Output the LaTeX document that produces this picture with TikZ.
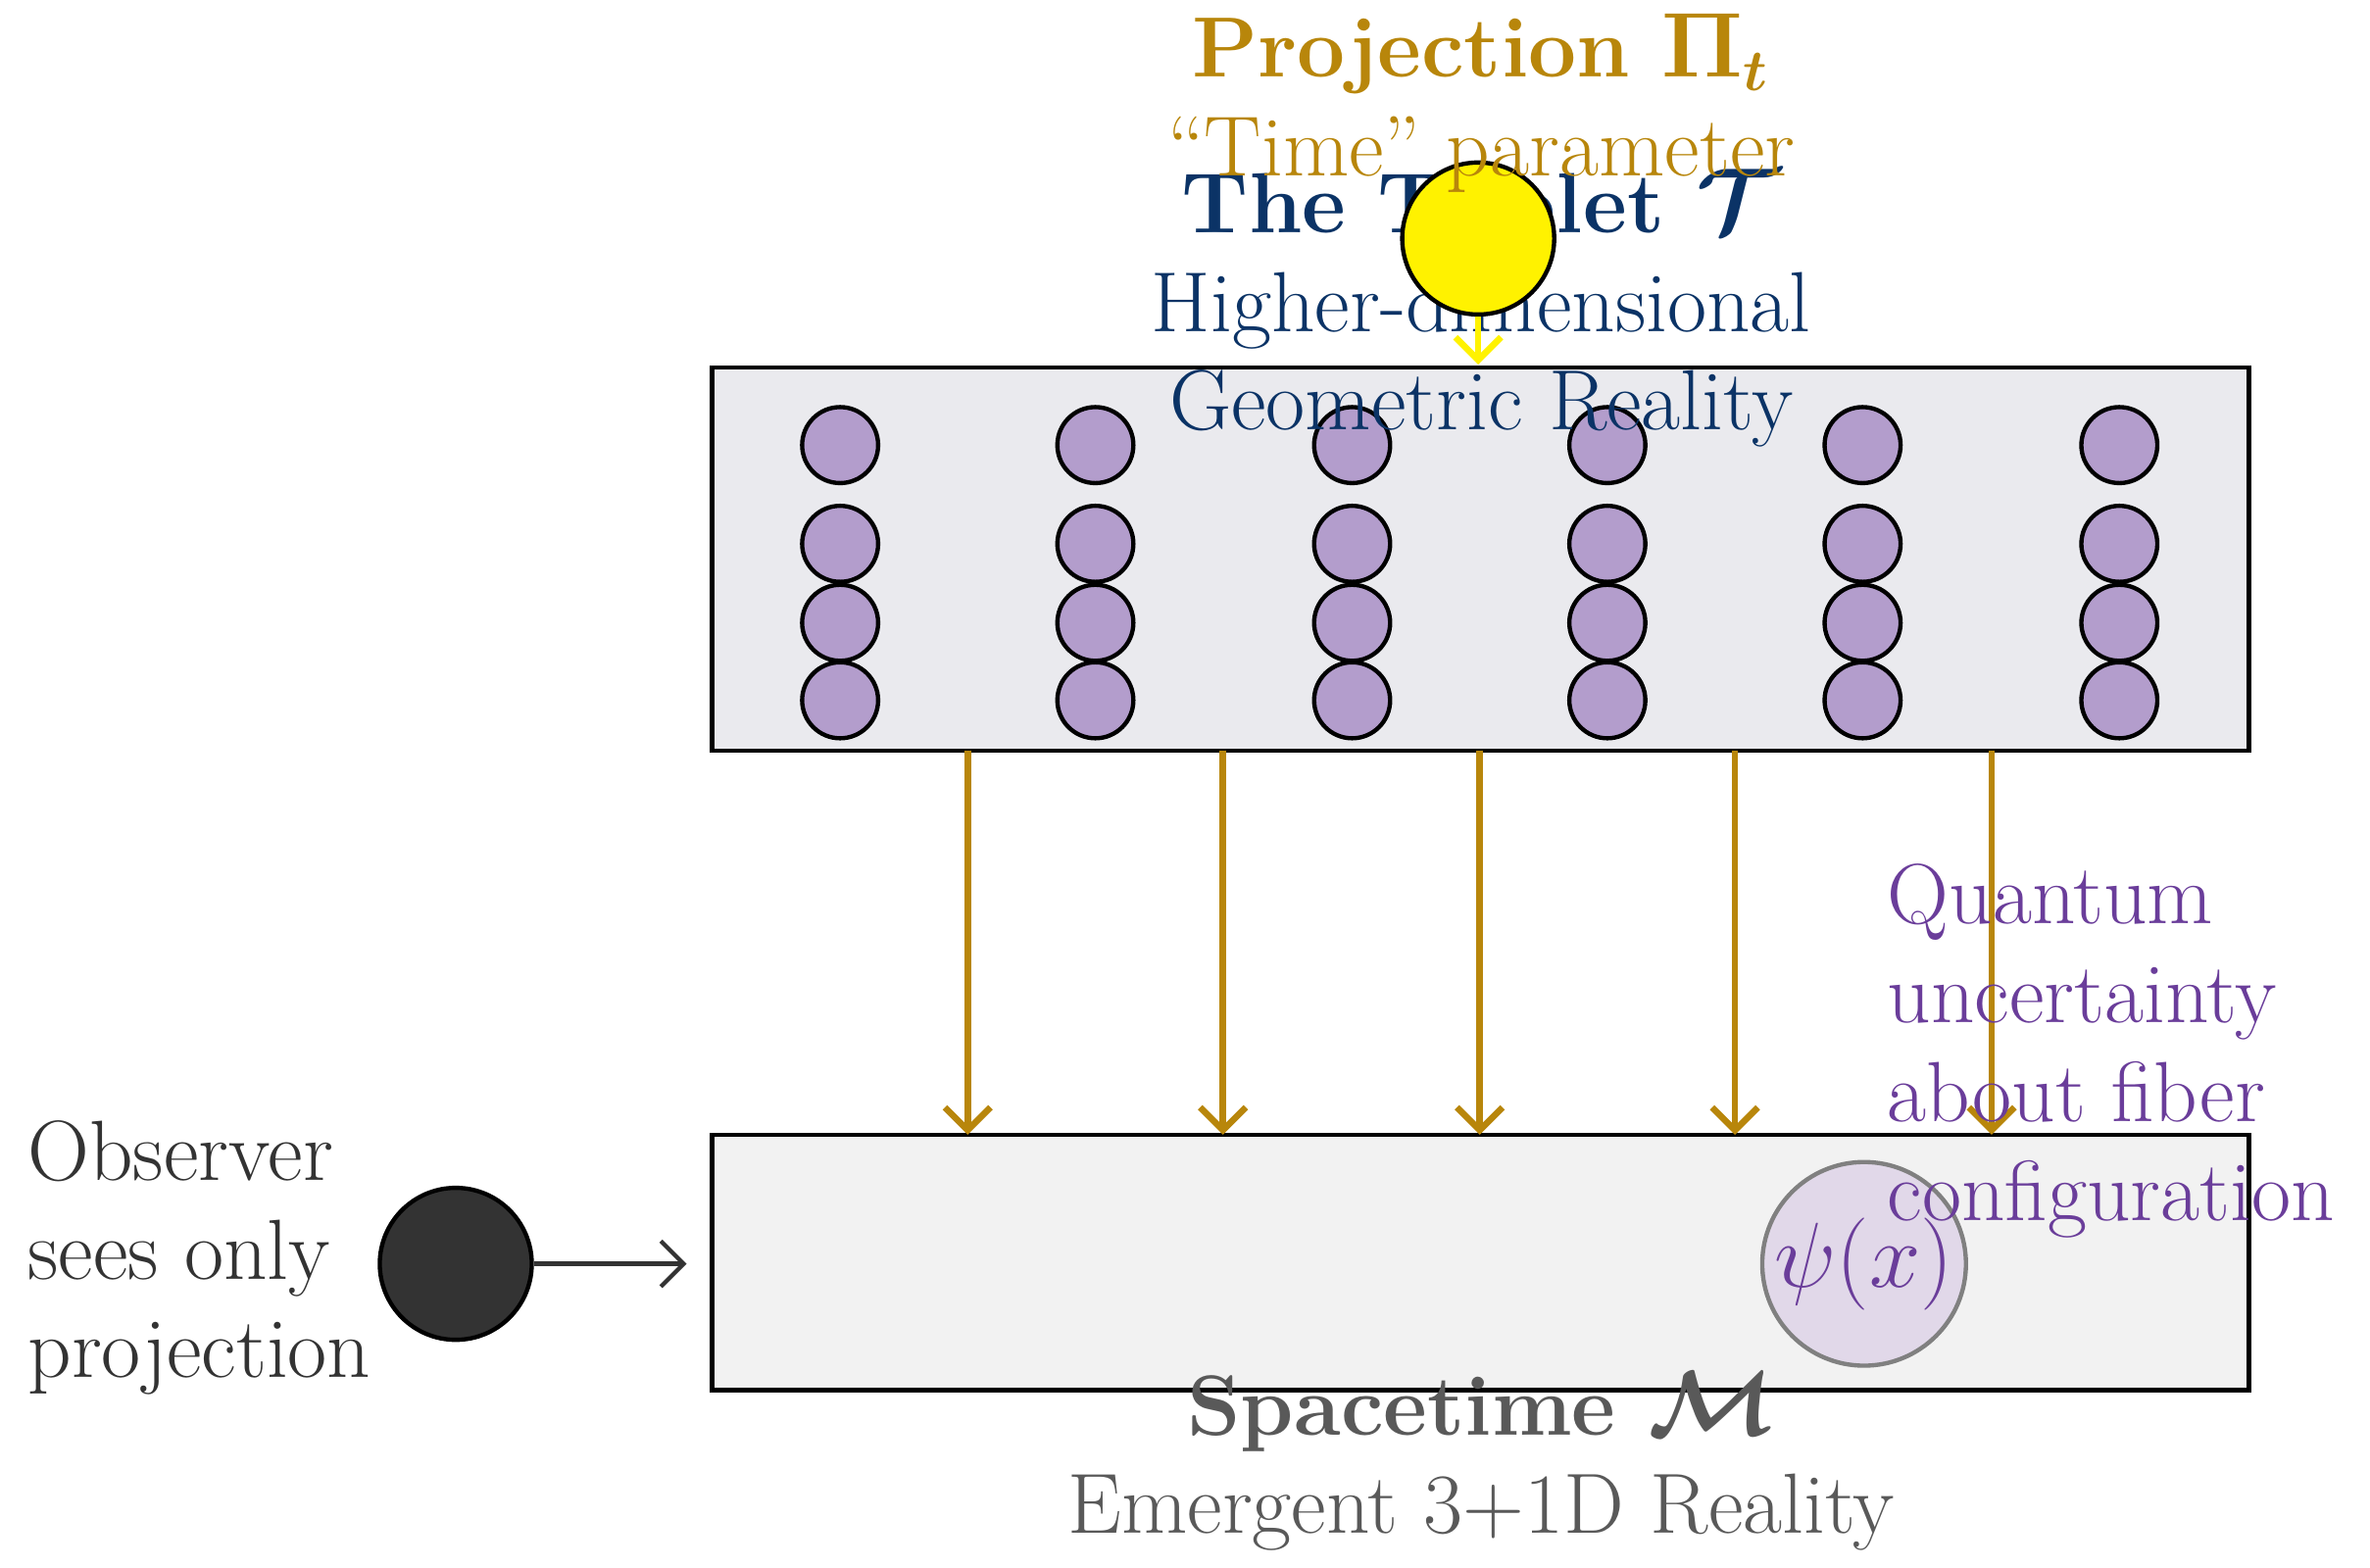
\documentclass[tikz,border=0pt]{standalone}
\usepackage{amsmath}
\usetikzlibrary{arrows.meta}
\definecolor{gold}{HTML}{B8860B}
\definecolor{navy}{HTML}{0B3366}
\definecolor{purp}{HTML}{6A3D9A}
\definecolor{fib}{HTML}{B39DCC}
\begin{document}
\begin{tikzpicture}[x=0.01cm,y=-0.01cm,
  txt/.style={font=\fontsize{16}{18.5}\selectfont,align=center},
  fiber/.style={circle,draw,thick,fill=fib,minimum size=0.5cm,inner sep=0pt},
  tip/.style={-{Straight Barb[length=1.5mm,width=3mm]}},
  proj/.style={draw=gold,very thick,tip}]
\useasboundingbox (0,0) rectangle (1560,1032);
\node[draw,thick,fill=blue!10!gray!15,minimum width=10.11cm,minimum height=2.52cm] (T) at (974.5,368) {};
\node[draw,thick,fill=gray!10,minimum width=10.11cm,minimum height=1.68cm] (M) at (974.5,831) {};
\foreach \x [count=\i] in {553,721,890,1058,1226,1395}{
  \foreach \y [count=\j] in {293,358,410,461}
    \node[fiber] (f\i\j) at (\x,\y) {};
}
\foreach \x [count=\i] in {637,805,974,1142,1311}{
  \coordinate (s\i) at (\x,494);
  \coordinate (e\i) at (\x,747);
  \draw[proj] (s\i) -- (e\i);
}
\node[txt,text=navy] (tl) at (975,203) {\textbf{The Triplet $\boldsymbol{\mathcal{T}}$}\\Higher-dimensional\\Geometric Reality};
\node[circle,draw,thick,fill=yellow,minimum size=1cm] (sun) at (973,157) {};
\coordinate (sunend) at (973,240);
\draw[draw=yellow,very thick,tip] (sun) -- (sunend);
\node[txt,text=gold] (pl) at (975,68) {\textbf{Projection $\boldsymbol{\Pi_t}$}\\``Time'' parameter};
\node[circle,draw=gray,thick,fill=purp!25,fill opacity=0.7,text opacity=1,minimum size=1.34cm,inner sep=0pt,text=purp,font=\fontsize{16}{18}\selectfont] (psi) at (1227,832) {$\psi(x)$};
\node[txt,text=purp,align=left,anchor=west] (ql) at (1230,692) {Quantum\\uncertainty\\about fiber\\configuration};
\node[circle,draw,thick,fill=black!80,minimum size=1cm] (obs) at (300,832) {};
\coordinate (obsend) at (452,832);
\draw[thick,draw=black!80,tip] (obs) -- (obsend);
\node[txt,text=black!80,align=left,anchor=west] (ol) at (6,828) {Observer\\sees only\\projection};
\node[txt,text=black!65] (sl) at (975,962) {\textbf{Spacetime $\boldsymbol{\mathcal{M}}$}\\Emergent 3+1D Reality};
\end{tikzpicture}
\end{document}
